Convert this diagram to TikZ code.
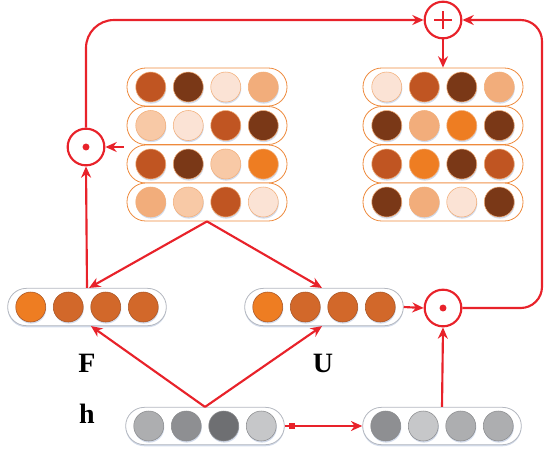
\documentclass[tikz,border=0pt]{standalone}
\usepackage{fontspec}
\newfontfamily\labfont{Liberation Serif}
\usetikzlibrary{arrows.meta,shadows}
\definecolor{lred}{HTML}{E8222A}
\definecolor{oB}{HTML}{EE8A3C}
\definecolor{gB}{HTML}{B4B8C0}
\definecolor{cA}{HTML}{7A3817}
\definecolor{cB}{HTML}{C05522}
\definecolor{cC}{HTML}{EE7D22}
\definecolor{cD}{HTML}{F2AD7B}
\definecolor{cE}{HTML}{F8C9A6}
\definecolor{cF}{HTML}{FBE3D5}
\definecolor{fA}{HTML}{D2682A}
\definecolor{gA}{HTML}{ADAEB0}
\definecolor{gBB}{HTML}{8E8F92}
\definecolor{gC}{HTML}{6E6F72}
\definecolor{gD}{HTML}{C6C7C9}
\definecolor{shd}{HTML}{C9D3E6}
\newcommand\vrow[6]{%
  \node[#4] (#1) at (#2,#3) {};
  \foreach \c [count=\i] in {#6} {%
    \node[ball, fill=\c, draw=#5] (#1-\i) at ({#2+(\i-2.5)*37.5},#3) {};}%
}
\begin{document}
\begin{tikzpicture}[x=0.75pt,y=-0.75pt,
  capO/.style={draw=oB, line width=0.6pt, fill=white, rounded corners=14pt,
    minimum width=120pt, minimum height=28.5pt, inner sep=0pt},
  capG/.style={draw=gB, line width=0.6pt, fill=white, rounded corners=14pt,
    minimum width=119pt, minimum height=28pt, inner sep=0pt,
    drop shadow={shadow xshift=0pt, shadow yshift=-1.2pt, fill=shd, opacity=0.8}},
  ball/.style={circle, minimum size=22.5pt, inner sep=0pt, line width=0.4pt,
    drop shadow={shadow xshift=0.4pt, shadow yshift=-1.2pt, fill=shd, opacity=0.8}},
  op/.style={circle, draw=lred, line width=1.6pt, fill=white, minimum size=27.5pt, inner sep=0pt},
  arr/.style={draw=lred, line width=1.6pt, -{Stealth[length=8.5pt,width=7.5pt]}},
  ln/.style={draw=lred, line width=1.6pt},
  lab/.style={font=\labfont\fontsize{21}{24}\selectfont\bfseries, anchor=base}]
\useasboundingbox (0,0) rectangle (545,451);

% left matrix
\vrow{La}{207}{87}{capO}{oB!70}{cB,cA,cF,cD}
\vrow{Lb}{207}{125.5}{capO}{oB!70}{cE,cF,cB,cA}
\vrow{Lc}{207}{164}{capO}{oB!70}{cB,cA,cE,cC}
\vrow{Ld}{207}{202}{capO}{oB!70}{cD,cE,cB,cF}
% right matrix
\vrow{Ra}{443}{87}{capO}{oB!70}{cF,cB,cA,cD}
\vrow{Rb}{443}{125.5}{capO}{oB!70}{cA,cD,cC,cA}
\vrow{Rc}{443}{164}{capO}{oB!70}{cB,cC,cA,cB}
\vrow{Rd}{443}{202}{capO}{oB!70}{cA,cD,cF,cA}
% F, U
\vrow{F}{87}{307}{capG}{fA!80!black}{cC,fA,fA,fA}
\vrow{U}{324}{307}{capG}{fA!80!black}{cC,fA,fA,fA}
% h and right grey
\vrow{H}{205}{426}{capG}{gA!80!black}{gA,gBB,gC,gD}
\vrow{G}{442}{426}{capG}{gA!80!black}{gBB,gD,gA,gA}

% operators
\node[op] (oL) at (86,147) {};
\fill[lred] (oL) circle (2.6pt);
\node[op] (oR) at (443,308) {};
\fill[lred] (oR) circle (2.6pt);
\node[op] (pl) at (443,20) {};
\draw[ln] ([xshift=-6.5pt]pl.center) -- ([xshift=6.5pt]pl.center);
\draw[ln] ([yshift=-6.5pt]pl.center) -- ([yshift=6.5pt]pl.center);

% labels
\node[lab] (tF) at (87,372) {F};
\node[lab] (tU) at (323,372) {U};
\node[lab] (th) at (87,423) {h};

% connectors
\coordinate (Lbot) at (Ld.south);
\draw[arr] (Lbot) -- ([xshift=1.5pt]F.north);
\draw[arr] (Lbot) -- ([xshift=-1.5pt]U.north);
\coordinate (Htop) at (H.north);
\draw[arr] (Htop) -- ([xshift=3pt]F.south);
\draw[arr] (Htop) -- ([xshift=-1.5pt]U.south);
\draw[arr] (F.north) -- (oL.south);
\draw[arr] ([xshift=-2pt]oL -| Lc.west) -- (oL.east);
\draw[arr] (H.east) -- (G.west);
\fill[lred] ([xshift=5.5pt]H.east) ++(-2pt,-2pt) rectangle ++(4pt,4pt);
\draw[arr] (G.north) -- (oR.south);
\draw[arr] (U.east) -- (oR.west);
\coordinate (cTL) at (86,20);
\coordinate (cTR) at (542,20);
\coordinate (cBR) at (542,308);
\draw[arr, rounded corners=21pt] (oL.north) -- (cTL) -- (pl.west);
\draw[arr, rounded corners=16pt] (oR.east) -- (cBR) -- (cTR) -- (pl.east);
\draw[arr] (pl.south) -- (Ra.north);
\end{tikzpicture}
\end{document}
